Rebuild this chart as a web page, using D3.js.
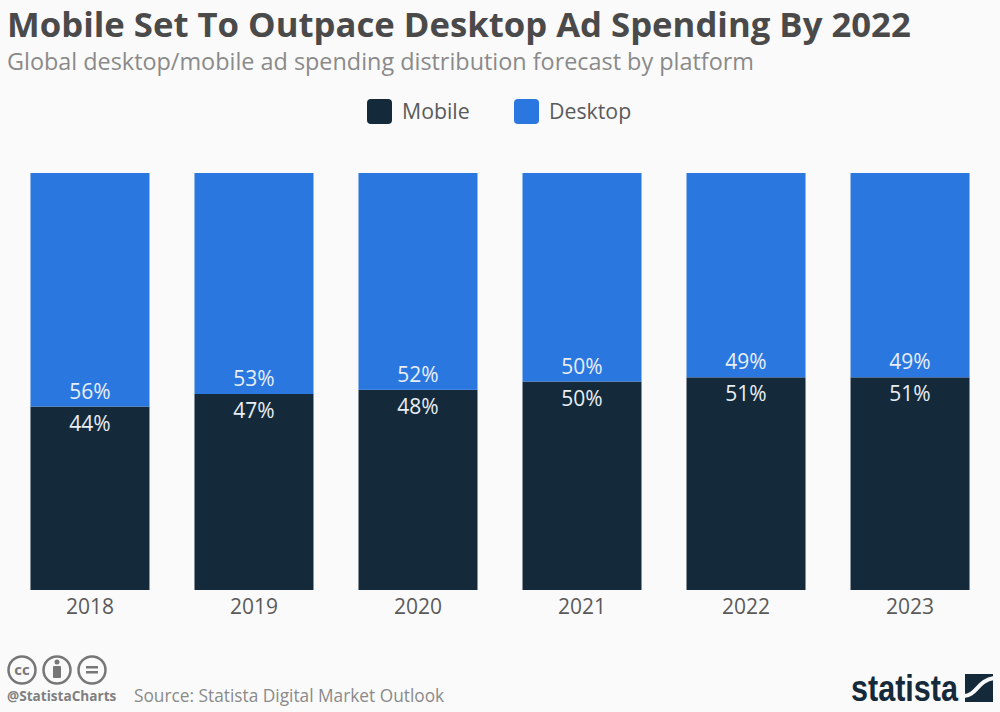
<!DOCTYPE html>
<html>
<head>
<meta charset="utf-8">
<script src="https://cdn.jsdelivr.net/npm/d3@7"></script>
<style>
  html, body { margin: 0; padding: 0; background: #fafafa; }
  text { font-family: "Open Sans", sans-serif; }
</style>
</head>
<body>
<script>
const WIDTH = 1000
const HEIGHT = 712

const years = ['2018', '2019', '2020', '2021', '2022', '2023']
const mobile = [44, 47, 48, 50, 51, 51]
const desktop = [56, 53, 52, 50, 49, 49]
const seriesNames = ['Mobile', 'Desktop']
const seriesColors = ['#142a3b', '#2a77e0']

const svg = d3.select('body')
  .append('svg')
  .attr('width', WIDTH)
  .attr('height', HEIGHT)
  .style('display', 'block')

svg.append('text')
  .attr('x', 7).attr('y', 37)
  .attr('font-size', 34.7).attr('font-weight', 700).attr('fill', '#4a4a4a')
  .text('Mobile Set To Outpace Desktop Ad Spending By 2022')

svg.append('text')
  .attr('x', 7).attr('y', 70)
  .attr('font-size', 23.4).attr('fill', '#8a8a8a')
  .text('Global desktop/mobile ad spending distribution forecast by platform')

// legende
const legendX = d3.scaleOrdinal().domain(seriesNames).range([367, 514])
const legend = svg.selectAll('.legend')
  .data(seriesNames)
  .enter()
  .append('g')
  .attr('transform', d => `translate(${legendX(d)}, 99)`)
legend.append('rect')
  .attr('width', 25).attr('height', 25).attr('rx', 4)
  .attr('fill', (d, i) => seriesColors[i])
legend.append('text')
  .attr('x', 35).attr('y', 20)
  .attr('font-size', 21.3).attr('fill', '#5a5a5a')
  .text(d => d)

// barres
const x = d3.scaleBand().domain(years).range([8, 992]).paddingInner(0.2744).paddingOuter(0.137)
const y = d3.scaleLinear().domain([0, 100]).range([590, 173])

const stack = d3.stack().keys([0, 1]).value((d, k) => d[k])
const rows = years.map((yr, i) => [mobile[i], desktop[i]])
const layers = stack(rows)

const groups = svg.selectAll('.layer')
  .data(layers)
  .enter()
  .append('g')
  .attr('fill', (d, i) => seriesColors[i])

groups.selectAll('rect')
  .data(d => d)
  .enter()
  .append('rect')
  .attr('x', (d, i) => x(years[i]))
  .attr('width', x.bandwidth())
  .attr('y', d => y(d[1]))
  .attr('height', d => y(d[0]) - y(d[1]))

// valeurs
const labels = svg.append('g').attr('text-anchor', 'middle').attr('font-size', 21).attr('fill', '#e8eef5')
labels.selectAll('.m')
  .data(mobile)
  .enter()
  .append('text')
  .attr('x', (d, i) => x(years[i]) + x.bandwidth() / 2)
  .attr('y', d => y(d) + 24)
  .text(d => d + '%')
labels.selectAll('.d')
  .data(desktop)
  .enter()
  .append('text')
  .attr('x', (d, i) => x(years[i]) + x.bandwidth() / 2)
  .attr('y', (d, i) => y(mobile[i]) - 8)
  .text(d => d + '%')

// axe
const axis = svg.append('g')
  .attr('transform', 'translate(0, 590)')
  .call(d3.axisBottom(x).tickSize(0).tickPadding(9))
axis.select('.domain').remove()
axis.selectAll('text')
  .attr('font-size', 21).attr('fill', '#5a5a5a').style('font-family', '"Open Sans", sans-serif')

// pied de page
const icons = svg.append('g').attr('fill', 'none').attr('stroke', '#777').attr('stroke-width', 2.5)
icons.selectAll('circle')
  .data([22, 57, 92])
  .enter()
  .append('circle')
  .attr('cx', d => d).attr('cy', 670).attr('r', 13.5)

svg.append('text').attr('x', 22).attr('y', 675).attr('text-anchor', 'middle')
  .attr('font-size', 15).attr('font-weight', 700).attr('fill', '#777').text('cc')
svg.append('circle').attr('cx', 57).attr('cy', 662).attr('r', 2.5).attr('fill', '#777')
svg.append('rect').attr('x', 53).attr('y', 666).attr('width', 8).attr('height', 12).attr('rx', 1).attr('fill', '#777')
svg.append('rect').attr('x', 86).attr('y', 666).attr('width', 12).attr('height', 2.5).attr('fill', '#777')
svg.append('rect').attr('x', 86).attr('y', 671).attr('width', 12).attr('height', 2.5).attr('fill', '#777')

svg.append('text').attr('x', 7).attr('y', 701)
  .attr('font-size', 13.6).attr('font-weight', 700).attr('fill', '#808080').text('@StatistaCharts')
svg.append('text').attr('x', 134).attr('y', 702)
  .attr('font-size', 17.3).attr('fill', '#8a8a8a').text('Source: Statista Digital Market Outlook')

svg.append('text').attr('x', 851).attr('y', 701)
  .attr('font-size', 36).attr('font-weight', 700).attr('fill', '#142a3b')
  .style('font-family', '"Liberation Sans Narrow", "Liberation Sans", sans-serif')
  .attr('textLength', 107).attr('lengthAdjust', 'spacingAndGlyphs')
  .text('statista')
svg.append('rect').attr('x', 965).attr('y', 674).attr('width', 28).attr('height', 28).attr('fill', '#142a3b')
svg.append('path')
  .attr('d', 'M964 696 C976 696 978 680 994 678')
  .attr('fill', 'none').attr('stroke', '#fafafa').attr('stroke-width', 4)
</script>
</body>
</html>
